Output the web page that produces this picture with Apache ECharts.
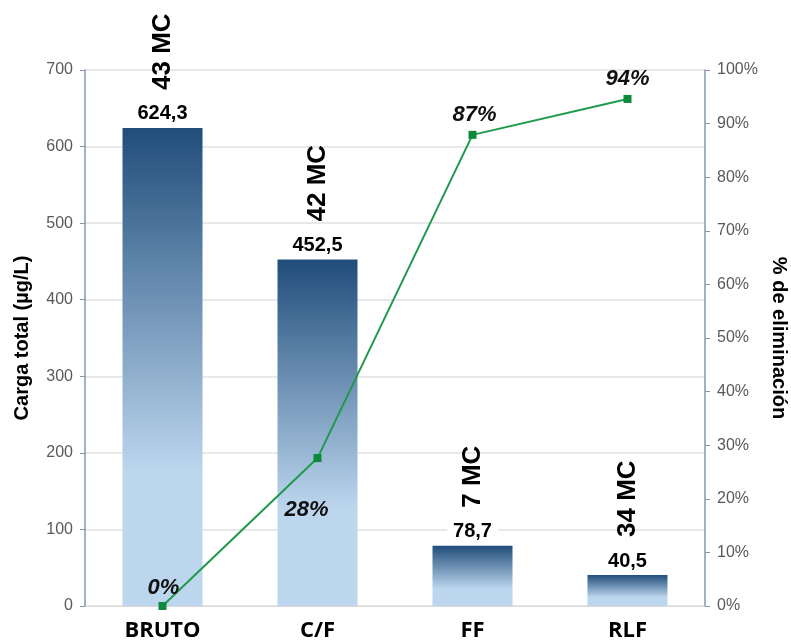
<!DOCTYPE html>
<html>
<head>
<meta charset="utf-8">
<script src="https://cdn.jsdelivr.net/npm/echarts@6/dist/echarts.min.js"></script>
<style>html,body{margin:0;padding:0;background:#fff}#c{width:791px;height:641px}</style>
</head>
<body>
<div id="c"></div>
<script>
const categories = ['BRUTO', 'C/F', 'FF', 'RLF'];
const cargaValues = [624.3, 452.5, 78.7, 40.5];
const mcLabels = ['43 MC', '42 MC', '7 MC', '34 MC'];
const eliminacion = [0, 27.6, 87.9, 94.6];
const eliminacionLabels = ['0%', '28%', '87%', '94%'];
const leftTicks = [0, 700, 100];
const rightTicks = [0, 100, 10];

const chart = echarts.init(document.getElementById('c'));
const font = 'Arial, "Liberation Sans", sans-serif';
const pctLabelPos = [
  {position: 'top', offset: [1, 2]},
  {position: 'bottom', offset: [-11, 32]},
  {position: 'top', offset: [2, 0]},
  {position: 'top', offset: [0, 0]}
];
chart.setOption({
  animation: false,
  grid: {left: 85, right: 86, top: 70, bottom: 35, containLabel: false, outerBoundsMode: 'none'},
  xAxis: {
    type: 'category', data: categories,
    axisLine: {lineStyle: {color: '#d9d9d9'}},
    axisTick: {show: false},
    axisLabel: {color: '#000', fontWeight: 'bold', fontSize: 22, fontFamily: '"Open Sans", sans-serif', margin: 14}
  },
  yAxis: [{
    type: 'value', min: leftTicks[0], max: leftTicks[1], interval: leftTicks[2],
    name: 'Carga total (µg/L)', nameLocation: 'middle', nameGap: 53,
    nameTextStyle: {color: '#000', fontWeight: 'bold', fontSize: 20, fontFamily: font},
    axisLine: {show: true, lineStyle: {color: '#8497b0', width: 1.5}},
    axisTick: {show: true, length: 5, lineStyle: {color: '#8497b0'}},
    axisLabel: {color: '#595959', fontSize: 16, fontFamily: font, margin: 12},
    splitLine: {lineStyle: {color: '#e0e0e0', width: 1.5}}
  }, {
    type: 'value', min: rightTicks[0], max: rightTicks[1], interval: rightTicks[2],
    name: '% de eliminación', nameLocation: 'middle', nameGap: 61, nameRotate: -90,
    nameTextStyle: {color: '#000', fontWeight: 'bold', fontSize: 20, fontFamily: font},
    axisLine: {show: true, lineStyle: {color: '#8497b0', width: 1.5}},
    axisTick: {show: true, length: 5, lineStyle: {color: '#8497b0'}},
    axisLabel: {color: '#595959', fontSize: 16, fontFamily: font, margin: 12, formatter: '{value}%'},
    splitLine: {show: false}
  }],
  series: [{
    type: 'bar', data: cargaValues, barWidth: 80, z: 2,
    itemStyle: {color: new echarts.graphic.LinearGradient(0, 0, 0, 1, [
      {offset: 0, color: '#204d7a'},
      {offset: 0.72, color: '#bcd6ee'},
      {offset: 1, color: '#bcd6ee'}
    ])},
    label: {show: true, position: 'top', distance: 3, color: '#000', fontWeight: 'bold', fontSize: 20,
      fontFamily: font, backgroundColor: '#fff', padding: [1, 6],
      formatter: p => String(p.value).replace('.', ',')}
  }, {
    type: 'scatter', data: cargaValues, symbolSize: 0, z: 3, silent: true,
    itemStyle: {opacity: 1},
    label: {show: true, position: 'top', distance: 38, rotate: 90, align: 'left', verticalAlign: 'middle',
      color: '#000', opacity: 1, fontWeight: 'bold', fontSize: 26, fontFamily: font,
      formatter: p => mcLabels[p.dataIndex]}
  }, {
    type: 'line', yAxisIndex: 1, z: 5,
    data: eliminacion.map((v, i) => ({value: v, label: Object.assign({}, pctLabelPos[i])})),
    lineStyle: {color: '#1f9a4c', width: 2},
    symbol: 'rect', symbolSize: 8, itemStyle: {color: '#0b8a3b'},
    label: {show: true, color: '#111', fontWeight: 'bold', fontStyle: 'italic', fontSize: 22, fontFamily: font,
      formatter: p => eliminacionLabels[p.dataIndex]}
  }]
});
</script>
</body>
</html>
